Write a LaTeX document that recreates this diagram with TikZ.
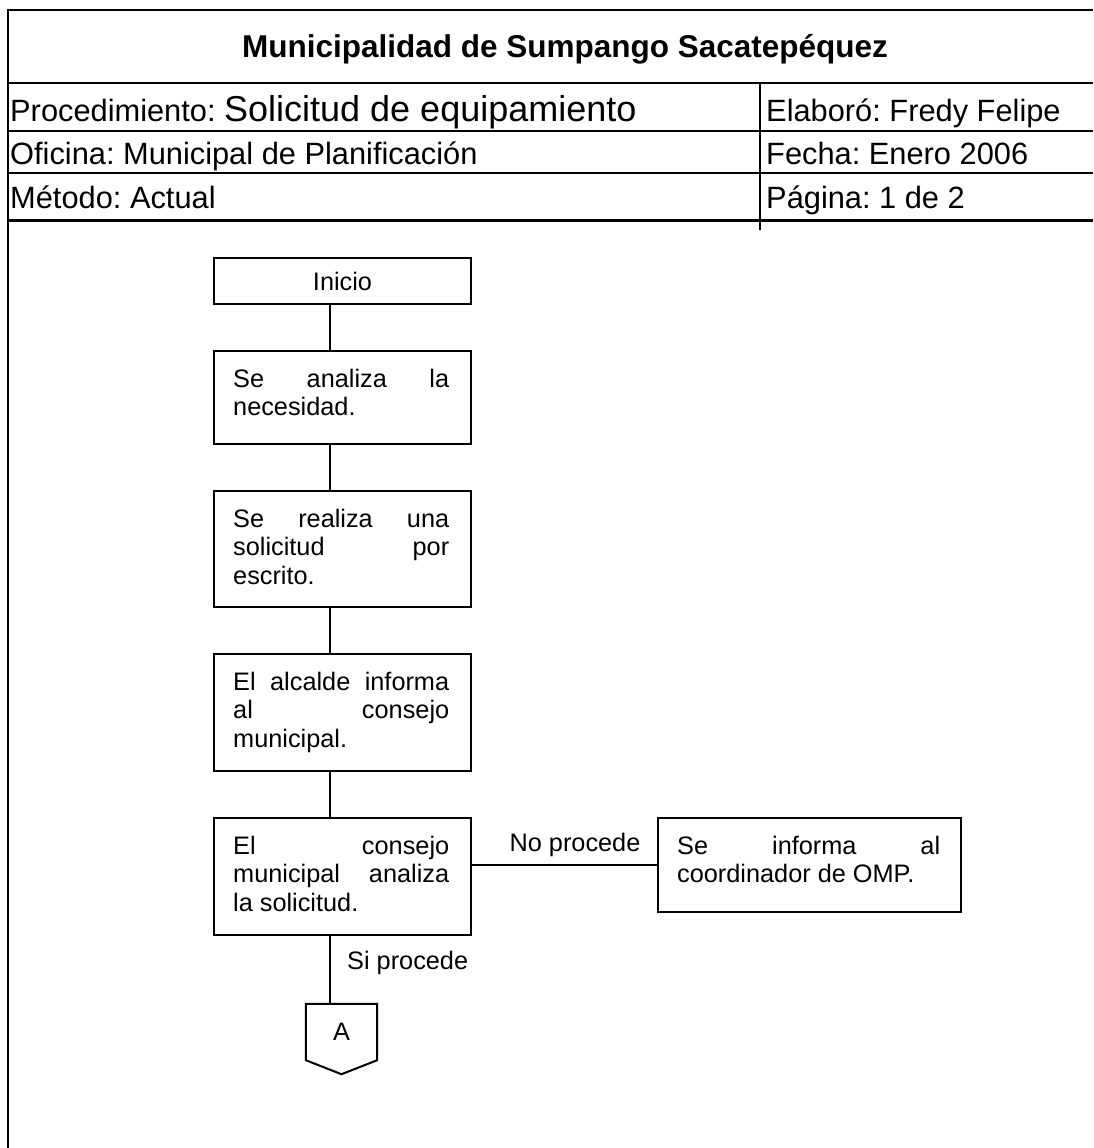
\documentclass[tikz,border=0pt]{standalone}
\usepackage{fontspec}
\setmainfont{Liberation Sans}
\usetikzlibrary{calc}
\frenchspacing

\newcommand{\hdrfont}{\fontsize{30.8}{36}\selectfont}
\newcommand{\ttlfont}{\fontsize{31.5}{36}\selectfont\bfseries}
\newcommand{\bigfont}{\fontsize{36}{40}\selectfont}
\newcommand{\stepfont}{\fontsize{25.3}{28.5}\selectfont}
\newcommand{\steplines}[2]{\parbox[t]{#1pt}{\stepfont #2}}

\begin{document}
\begin{tikzpicture}[x=1pt, y=-1pt,
  rule/.style={line width=2.2pt},
  thickrule/.style={line width=3pt},
  stepbox/.style={draw, line width=2pt, anchor=north west, minimum width=257pt, inner sep=0pt, font=\stepfont},
  link/.style={line width=2pt},
  hdr/.style={anchor=base west, inner sep=0pt, font=\hdrfont},
  lbl/.style={inner sep=0pt, font=\stepfont},
  steptxt/.style={anchor=base west, inner sep=0pt}
]
\useasboundingbox (0,0) rectangle (1093,1148);
\fill[white] (0,0) rectangle (1093,1148);

% frame and header grid
\draw[rule] (1093,10) -- (8,10) -- (8,1148);
\draw[rule] (8,83) -- (1093,83);
\draw[rule] (8,131) -- (1093,131);
\draw[rule] (8,173) -- (1093,173);
\draw[thickrule] (8,220) -- (1093,220);
\draw[line width=2pt] (760,83) -- (760,230);

% header texts
\node[anchor=base, inner sep=0pt, font=\ttlfont] (title) at (565,57) {Municipalidad de Sumpango Sacatepéquez};
\node[hdr] (proc) at (10,121) {Procedimiento: {\bigfont Solicitud de equipamiento}};
\node[hdr] (ofic) at (10,164) {Oficina: Municipal de Planificación};
\node[hdr] (metodo) at (10,208) {Método: Actual};
\node[hdr] (elab) at (766,121) {Elaboró: Fredy Felipe};
\node[hdr] (fecha) at (766,164) {Fecha: Enero 2006};
\node[hdr] (pagina) at (766,208) {Página: 1 de 2};

% flow steps
\coordinate (spine) at (330,0);
\node[stepbox, minimum height=46pt] (inicio) at (213,257) {Inicio};

\node[stepbox, minimum height=93pt] (analiza) at (213,350) {};
\node[steptxt] (analizaT) at ($(analiza.north west)+(20,37)$)
  {\steplines{216}{Se\hfill analiza\hfill la\\necesidad.}};

\node[stepbox, minimum height=116pt] (solicita) at (213,490) {};
\node[steptxt] (solicitaT) at ($(solicita.north west)+(20,37)$)
  {\steplines{216}{Se\hfill realiza\hfill una\\solicitud\hfill por\\escrito.}};

\node[stepbox, minimum height=117pt] (alcalde) at (213,653) {};
\node[steptxt] (alcaldeT) at ($(alcalde.north west)+(20,37)$)
  {\steplines{216}{El\hfill alcalde\hfill informa\\al\hfill consejo\\municipal.}};

\node[stepbox, minimum height=117pt] (consejo) at (213,817) {};
\node[steptxt] (consejoT) at ($(consejo.north west)+(20,37)$)
  {\steplines{216}{El\hfill consejo\\municipal\hfill analiza\\la solicitud.}};

\node[stepbox, minimum width=303pt, minimum height=94pt] (coord) at (657,817) {};
\node[steptxt] (coordT) at ($(coord.north west)+(20,37)$)
  {\steplines{263}{Se\hfill informa\hfill al\\coordinador de OMP.}};

% off-page connector
\node[minimum width=71pt, minimum height=56pt, inner sep=0pt, font=\stepfont] (conA) at (341.5,1032) {A};
\draw[line width=2pt] (conA.north west) -- (conA.north east) -- (conA.south east)
  -- ($(conA.south)+(0,14)$) -- (conA.south west) -- cycle;

% connectors
\draw[link] (inicio.south -| spine) -- (analiza.north -| spine);
\draw[link] (analiza.south -| spine) -- (solicita.north -| spine);
\draw[link] (solicita.south -| spine) -- (alcalde.north -| spine);
\draw[link] (alcalde.south -| spine) -- (consejo.north -| spine);
\draw[link] (consejo.south -| spine) -- (conA.north -| spine);
\draw[link] (coord.west -| consejo.east) -- (coord.west);

% branch labels
\node[lbl, anchor=base] (noproc) at (575,851) {No procede};
\node[lbl, anchor=base west] (siproc) at (347,969) {Si procede};
\end{tikzpicture}
\end{document}
